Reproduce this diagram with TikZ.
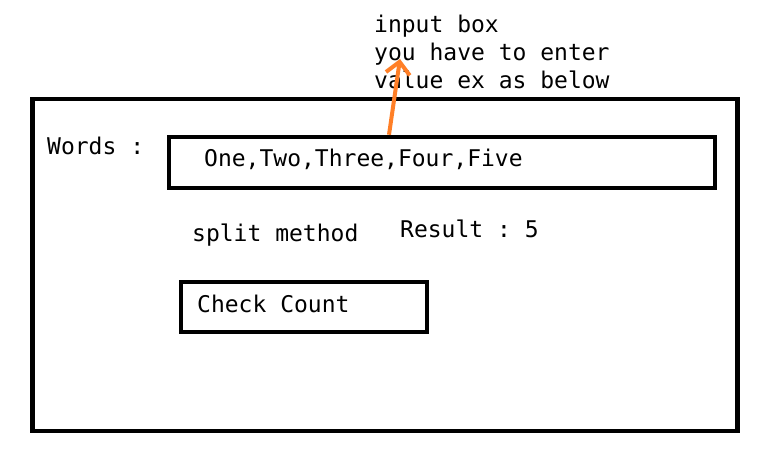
\documentclass[tikz,border=0pt]{standalone}
\usepackage{fontspec}
\setmonofont{DejaVu Sans Mono}
\usetikzlibrary{arrows.meta}
\definecolor{penorange}{HTML}{FF7F27}

\begin{document}
\begin{tikzpicture}[x=1pt, y=-1pt,
    every node/.style = {font=\ttfamily\fontsize{23}{28}\selectfont, inner sep=0pt},
    textline/.style = {anchor=base west},
    box/.style = {draw, line width=4.5pt}]
    \useasboundingbox (0,0) rectangle (760,465);
    \node[box, minimum width=705pt, minimum height=332pt] (frame) at (385,265) {};
    \node[box, minimum width=546pt, minimum height=51pt] (inputbox) at (442,162.5) {};
    \node[box, minimum width=246pt, minimum height=50pt] (checkbox) at (304,307) {};
    \node[textline] (words) at (47,155) {Words :};
    \node[textline] (value) at (204,167) {One,Two,Three,Four,Five};
    \node[textline] (split) at (192,241) {split method};
    \node[textline] (result) at (400,237) {Result : 5};
    \node[textline] (check) at (197,312) {Check Count};
    % base of a multi-line node sits on its last line
    \node[textline, align=left] (note) at (374,89) {input box\\you have to enter\\value ex as below};
    \coordinate (tip) at (400,59);
    \draw[penorange, line width=4pt, -{Straight Barb[length=12pt, width=24pt]}]
        ([xshift=-53pt]inputbox.north) -- (tip);
  \end{tikzpicture}
\end{document}
